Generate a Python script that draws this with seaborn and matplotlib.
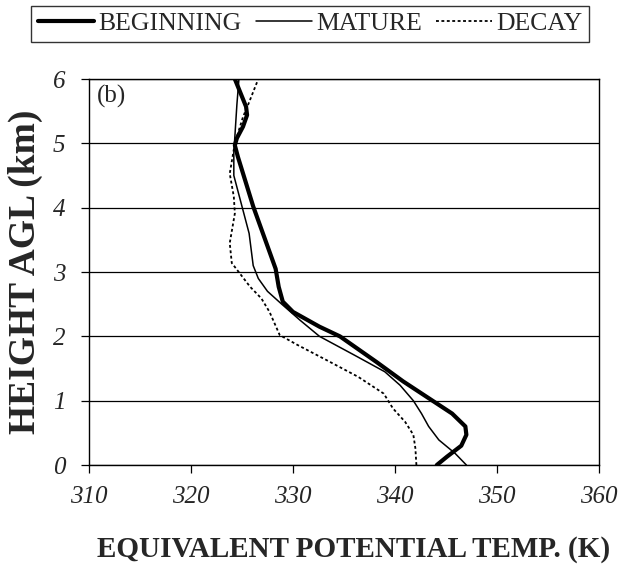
import numpy as np
import pandas as pd
import matplotlib
matplotlib.use("Agg")
import matplotlib.pyplot as plt
import seaborn as sns

# -----------------------------------------------------------
# DATA

height_beg = [0.0, 0.13, 0.30, 0.47, 0.60, 0.80, 1.05, 1.30, 1.60, 2.00, 2.15, 2.38,
              2.54, 2.77, 3.05, 4.02, 4.79, 4.97, 5.08, 5.26, 5.44, 5.57, 6.0]
theta_beg = [344.1, 345.1, 346.5, 347.0, 346.9, 345.6, 343.2, 340.8, 338.2, 334.6, 332.6, 330.0,
             329.0, 328.6, 328.3, 326.1, 324.6, 324.3, 324.5, 325.1, 325.5, 325.4, 324.3]

height_mat = [0.0, 0.18, 0.39, 0.60, 0.80, 1.00, 1.24, 1.45, 1.71, 2.00, 2.25, 2.50,
              2.70, 2.90, 3.10, 3.35, 3.60, 3.96, 4.50, 4.85, 5.10, 5.60, 6.0]
theta_mat = [347.0, 345.9, 344.3, 343.3, 342.6, 341.8, 340.5, 339.0, 336.0, 332.6, 330.7, 328.9,
             327.5, 326.6, 326.1, 325.9, 325.7, 325.1, 324.2, 324.2, 324.3, 324.5, 324.7]

height_dec = [0.0, 0.26, 0.47, 0.67, 0.88, 1.11, 1.37, 1.63, 1.87, 2.02, 2.38, 2.59,
              2.77, 3.14, 3.45, 3.91, 4.17, 4.53, 5.00, 5.41, 5.60, 6.0]
theta_dec = [342.1, 342.0, 341.8, 341.0, 339.8, 338.9, 336.4, 333.3, 330.4, 328.7, 327.7, 326.9,
             325.8, 324.0, 323.8, 324.3, 324.2, 323.8, 324.3, 325.1, 325.6, 326.6]

stage_names = ["BEGINNING", "MATURE", "DECAY"]
x_ticks = [310, 320, 330, 340, 350, 360]
y_ticks = [0, 1, 2, 3, 4, 5, 6]

# -----------------------------------------------------------
# STYLE

sns.set_style("ticks")
plt.rcParams["font.family"] = ["Liberation Serif", "DejaVu Serif"]
plt.rcParams["axes.linewidth"] = 1.0

fig = plt.figure(figsize=(6.24, 5.66), dpi=100)
ax = fig.add_axes([0.1426, 0.1784, 0.8173, 0.682])

styles = {
    "BEGINNING": dict(lw=3.0, ls="-"),
    "MATURE": dict(lw=1.1, ls="-"),
    "DECAY": dict(lw=1.3, ls=(0, (1.6, 1.4))),
}
profiles = {
    "BEGINNING": (theta_beg, height_beg),
    "MATURE": (theta_mat, height_mat),
    "DECAY": (theta_dec, height_dec),
}

for name in stage_names:
    th, h = profiles[name]
    df = pd.DataFrame({"theta": th, "height": h})
    sns.lineplot(data=df, x="theta", y="height", sort=False, estimator=None,
                 orient="y", color="black", label=name, ax=ax,
                 linewidth=styles[name]["lw"], linestyle=styles[name]["ls"])

ax.set_xlim(310, 360)
ax.set_ylim(0, 6)
ax.set_xticks(x_ticks)
ax.set_yticks(y_ticks)
ax.grid(axis="y", color="black", lw=0.9)
ax.grid(axis="x", visible=False)
for s in ax.spines.values():
    s.set_visible(True)
    s.set_color("black")

ax.tick_params(axis="both", direction="out", length=6, width=0.9, color="black")
ax.tick_params(axis="x", pad=9)
ax.tick_params(axis="y", pad=11)
for lab in ax.get_xticklabels() + ax.get_yticklabels():
    lab.set_fontsize(18)
    lab.set_fontstyle("italic")

ax.set_xlabel("EQUIVALENT POTENTIAL TEMP. (K)", fontsize=21, fontweight="bold")
ax.xaxis.set_label_coords(0.518, -0.183)
ax.set_ylabel("HEIGHT AGL (km)", fontsize=27, fontweight="bold")
ax.yaxis.set_label_coords(-0.125, 0.5)
ax.yaxis.label.set_va("center")

ax.text(0.015, 0.985, "(b)", transform=ax.transAxes, fontsize=18, va="top", ha="left")

ax.get_legend().remove()
handles, labels = ax.get_legend_handles_labels()
leg = fig.legend(handles, labels, loc="center", bbox_to_anchor=(0.497, 0.958), ncol=3,
                 fontsize=18.5, frameon=True, fancybox=False, edgecolor="black",
                 handlelength=2.2, handletextpad=0.15, columnspacing=0.55,
                 borderpad=0.25, borderaxespad=0)
leg.get_frame().set_linewidth(1.0)

fig.savefig("out.png", dpi=100)
